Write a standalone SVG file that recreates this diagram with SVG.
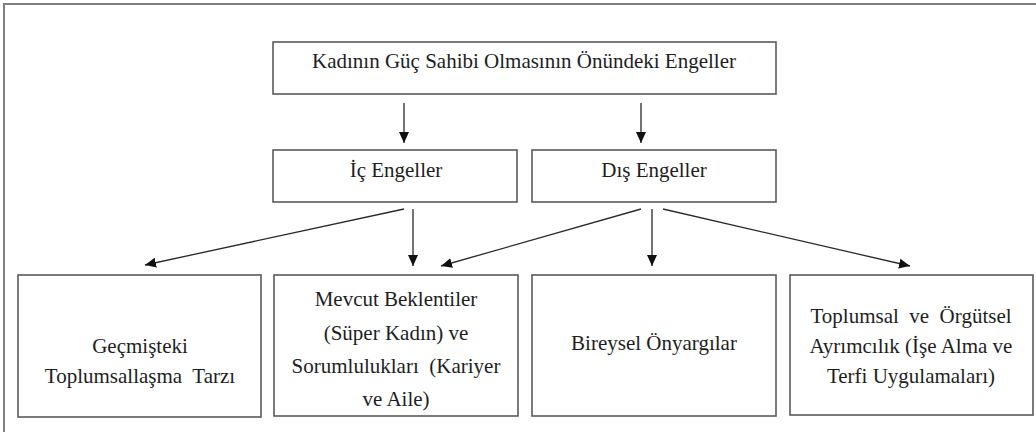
<svg xmlns="http://www.w3.org/2000/svg" width="1036" height="432" viewBox="0 0 1036 432">
<style>
.box{fill:#fff;stroke:#5a5a5a;stroke-width:1.6}
.t{font-family:'Liberation Serif','Times New Roman','DejaVu Serif',Times,serif;font-size:21px;fill:#1e1e1e;text-anchor:middle}
.c{fill:none;stroke:#2a2a2a;stroke-width:1.3}
.frame{fill:none;stroke:#808080;stroke-width:2}
</style>
<defs>
<marker id="ah" markerUnits="userSpaceOnUse" markerWidth="12" markerHeight="12" viewBox="0 0 12 12" refX="11" refY="6" orient="auto">
<path d="M0,1 L11,6 L0,11 Z" fill="#111"/>
</marker>
</defs>
<rect width="1036" height="432" fill="#fff"/>
<path class="frame" d="M4,432 V4 H1036"/>
<g id="n-root"><rect class="box" x="273" y="42" width="503" height="52"/><text class="t" x="524" y="68">Kadının Güç Sahibi Olmasının Önündeki Engeller</text></g>
<g id="n-ic"><rect class="box" x="273" y="150" width="244" height="52"/><text class="t" x="396" y="177">İç Engeller</text></g>
<g id="n-dis"><rect class="box" x="532" y="150" width="244" height="52"/><text class="t" x="654" y="177">Dış Engeller</text></g>
<g id="n-gecmis"><rect class="box" x="18" y="275" width="243" height="142"/><text class="t" x="140" y="353">Geçmişteki</text><text class="t" x="140" y="383" xml:space="preserve">Toplumsallaşma  Tarzı</text></g>
<g id="n-mevcut"><rect class="box" x="274" y="275" width="244" height="141"/><text class="t" x="396" y="306">Mevcut Beklentiler</text><text class="t" x="396" y="340">(Süper Kadın) ve</text><text class="t" x="396" y="373" xml:space="preserve">Sorumlulukları  (Kariyer</text><text class="t" x="396" y="406">ve Aile)</text></g>
<g id="n-bireysel"><rect class="box" x="532" y="275" width="244" height="141"/><text class="t" x="654" y="350">Bireysel Önyargılar</text></g>
<g id="n-toplumsal"><rect class="box" x="790" y="275" width="243" height="140"/><text class="t" x="911" y="323" xml:space="preserve">Toplumsal  ve  Örgütsel</text><text class="t" x="911" y="353">Ayrımcılık (İşe Alma ve</text><text class="t" x="911" y="383">Terfi Uygulamaları)</text></g>
<g id="connectors">
<line class="c" x1="404" y1="103" x2="404" y2="143" marker-end="url(#ah)"/>
<line class="c" x1="641" y1="103" x2="641" y2="143" marker-end="url(#ah)"/>
<line class="c" x1="404" y1="209" x2="145" y2="265" marker-end="url(#ah)"/>
<line class="c" x1="413" y1="209" x2="413" y2="266" marker-end="url(#ah)"/>
<line class="c" x1="641" y1="209" x2="441" y2="266" marker-end="url(#ah)"/>
<line class="c" x1="652" y1="209" x2="652" y2="266" marker-end="url(#ah)"/>
<line class="c" x1="663" y1="209" x2="910" y2="266" marker-end="url(#ah)"/>
</g>
</svg>
